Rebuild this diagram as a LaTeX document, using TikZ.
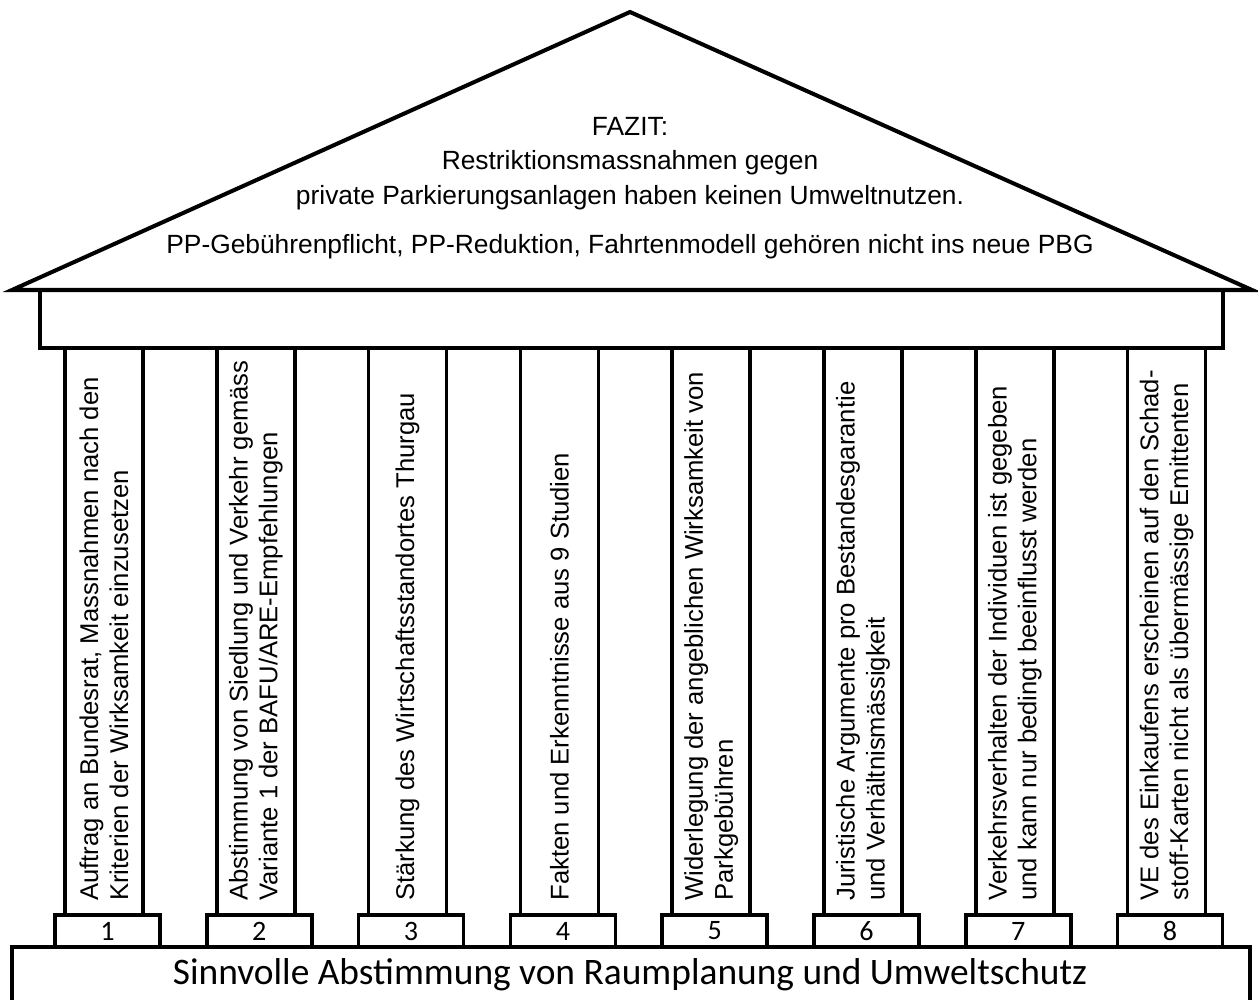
\documentclass[tikz,border=0pt]{standalone}
\usepackage{fontspec}
\setmainfont{Liberation Sans}
\newfontfamily\calibri{Carlito}
\usetikzlibrary{positioning}
\tikzstyle{wall}=[draw,line width=2pt,line join=miter]
\tikzstyle{pillar}=[draw,fill=white,rectangle,line width=2pt,
  minimum width=1.56cm,minimum height=11.34cm,inner sep=0pt]
\tikzstyle{inscription}=[rotate=90,anchor=west,align=left,inner sep=0pt,
  font=\fontsize{14.6}{17}\selectfont]
\tikzstyle{plinth}=[draw,fill=white,rectangle,line width=2pt,
  minimum width=2.1cm,minimum height=0.64cm,inner sep=0pt,
  font=\calibri\fontsize{16}{16}\selectfont]

\begin{document}
\begin{tikzpicture}[x=0.02cm,y=-0.02cm]
    \useasboundingbox (0,0) rectangle (1258,1000);

    % foundation
    \draw[wall] (12,1010) -- (12,947) -- (1250,947) -- (1250,1010);
    \node (ground) at (630,975) {\calibri\fontsize{21.3}{21}\selectfont Sinnvolle Abstimmung von Raumplanung und Umweltschutz};

    % column bases
    \node[plinth] (base1) at (107.5,931) {1};
    \node[plinth] (base2) at (259.3,931) {2};
    \node[plinth] (base3) at (411.1,931) {3};
    \node[plinth] (base4) at (562.9,931) {4};
    \node[plinth] (base5) at (714.7,931) {5};
    \node[plinth] (base6) at (866.5,931) {6};
    \node[plinth] (base7) at (1018.3,931) {7};
    \node[plinth] (base8) at (1170.1,931) {8};

    % columns
    \node[pillar] (col1) at (104,631.5) {};
    \node[pillar] (col2) at (255.8,631.5) {};
    \node[pillar] (col3) at (407.6,631.5) {};
    \node[pillar] (col4) at (559.4,631.5) {};
    \node[pillar] (col5) at (711.2,631.5) {};
    \node[pillar] (col6) at (863,631.5) {};
    \node[pillar] (col7) at (1014.8,631.5) {};
    \node[pillar] (col8) at (1166.6,631.5) {};

    % column texts, read bottom to top
    \node[inscription] (txt1) at (104,901) {Auftrag an Bundesrat, Massnahmen nach den\\Kriterien der Wirksamkeit einzusetzen};
    \node[inscription] (txt2) at (255.8,901) {Abstimmung von Siedlung und Verkehr gemäss\\Variante 1 der BAFU/ARE-Empfehlungen};
    \node[inscription] (txt3) at (407.6,901) {Stärkung des Wirtschaftsstandortes Thurgau};
    \node[inscription] (txt4) at (559.4,901) {Fakten und Erkenntnisse aus 9 Studien};
    \node[inscription] (txt5) at (711.2,901) {Widerlegung der angeblichen Wirksamkeit von\\Parkgebühren};
    \node[inscription] (txt6) at (863,901) {Juristische Argumente pro Bestandesgarantie\\und Verhältnismässigkeit};
    \node[inscription] (txt7) at (1014.8,901) {Verkehrsverhalten der Individuen ist gegeben\\und kann nur bedingt beeinflusst werden};
    \node[inscription] (txt8) at (1166.6,901) {VE des Einkaufens erscheinen auf den Schad-\\stoff-Karten nicht als übermässige Emittenten};

    % entablature and roof
    \draw[wall,fill=white] (40,290) rectangle (1223,348);
    \draw[wall,line width=2.3pt] (12,290) -- (630,12) -- (1252,290) -- cycle;
    \node[align=center,font=\fontsize{15}{19.8}\selectfont] (fazit) at (630,188)
      {FAZIT:\\Restriktionsmassnahmen gegen\\private Parkierungsanlagen haben keinen Umweltnutzen.\\[8pt]
       PP-Gebührenpflicht, PP-Reduktion, Fahrtenmodell gehören nicht ins neue PBG};
\end{tikzpicture}
\end{document}
